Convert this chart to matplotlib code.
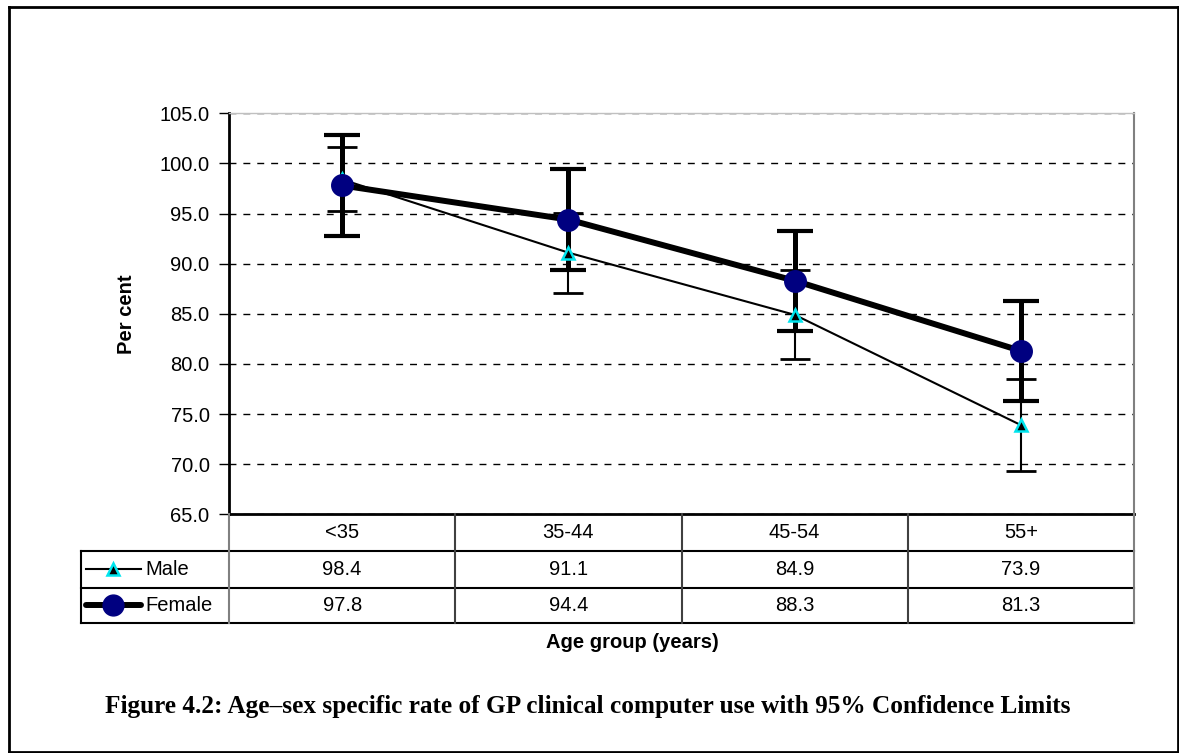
import matplotlib
matplotlib.use("Agg")
import matplotlib.pyplot as plt
from matplotlib.lines import Line2D
from matplotlib.transforms import blended_transform_factory

plt.rcParams['font.family'] = ['Liberation Sans', 'DejaVu Sans']

# ---- data ----
categories = ['<35', '35-44', '45-54', '55+']
male = [98.4, 91.1, 84.9, 73.9]
female = [97.8, 94.4, 88.3, 81.3]
male_ci_lower = [95.3, 87.1, 80.5, 69.3]
male_ci_upper = [101.6, 95.1, 89.4, 78.5]
female_ci_lower = [92.8, 89.4, 83.3, 76.3]
female_ci_upper = [102.8, 99.4, 93.3, 86.3]
series_names = ['Male', 'Female']
yticks = [65, 70, 75, 80, 85, 90, 95, 100, 105]

W, H = 1179, 753
fig = plt.figure(figsize=(W / 100, H / 100), dpi=100)

def fx(x):
    return x / W

def fy(y):
    return 1 - y / H

FS = 14.5
L, R, T, B = 229, 1134, 113.3, 514.3
ax = fig.add_axes([fx(L), fy(B), fx(R - L), (B - T) / H])
x = list(range(len(categories)))

# error bars
f_err = [[f - lo for f, lo in zip(female, female_ci_lower)],
         [hi - f for f, hi in zip(female, female_ci_upper)]]
m_err = [[m - lo for m, lo in zip(male, male_ci_lower)],
         [hi - m for m, hi in zip(male, male_ci_upper)]]
ax.errorbar(x, female, yerr=f_err, fmt='none', ecolor='black', elinewidth=3.6,
            capsize=13, capthick=3, zorder=2)
ax.errorbar(x, male, yerr=m_err, fmt='none', ecolor='black', elinewidth=1.5,
            capsize=11, capthick=2, zorder=3)

# lines
ax.plot(x, male, color='black', lw=1.5, marker='^', markersize=9,
        markerfacecolor='black', markeredgecolor='#00e5ee', markeredgewidth=1.8,
        zorder=4)
ax.plot(x, female, color='black', lw=4.3, marker='o', markersize=15.5,
        markerfacecolor='#000080', markeredgecolor='#000080', zorder=5)

ax.set_xlim(-0.5, len(categories) - 0.5)
ax.set_ylim(65, 105)
ax.set_yticks(yticks)
ax.set_yticklabels([f'{v:.1f}' for v in yticks], fontsize=FS)
ax.set_xticks([])
ax.tick_params(axis='y', direction='out', length=7, width=1, pad=7)
ax.yaxis.grid(True, linestyle=(0, (5, 5)), color='black', lw=1)
ax.set_axisbelow(True)
ax.spines['left'].set_linewidth(2)
ax.spines['left'].set_color('black')
ax.spines['bottom'].set_linewidth(2)
ax.spines['bottom'].set_color('black')
ax.spines['top'].set_color('#c0c0c0')
ax.spines['top'].set_linewidth(1)
ax.spines['right'].set_color('#808080')
ax.spines['right'].set_linewidth(1.5)
ax.set_ylabel('Per cent', fontsize=FS, fontweight='bold', labelpad=17)

# ---- data table ----
TL, TR = 81, 1134
rows_y = [514.3, 551, 587.5, 623]
tax = fig.add_axes([fx(TL), fy(rows_y[-1]), fx(TR - TL), (rows_y[-1] - rows_y[0]) / H])
tax.set_xlim(TL, TR)
tax.set_ylim(rows_y[-1], rows_y[0])
tax.axis('off')
tr = blended_transform_factory(ax.transData, tax.transData)

# horizontal lines
for yy in rows_y[1:]:
    tax.add_line(Line2D([TL, TR], [yy, yy], color='black', lw=1.5, clip_on=False))
# vertical lines
for i in range(len(categories) + 1):
    xv = i - 0.5
    col = '#404040' if 0 < i < len(categories) else '#808080'
    tax.add_line(Line2D([xv, xv], [rows_y[0], rows_y[-1]], color=col, lw=1.5,
                        transform=tr, clip_on=False))
tax.add_line(Line2D([TL, TL], [rows_y[1], rows_y[-1]], color='black', lw=1.5, clip_on=False))

def rc(i):
    return (rows_y[i] + rows_y[i + 1]) / 2

for i, c in enumerate(categories):
    tax.text(i, rc(0), c, transform=tr, ha='center', va='center', fontsize=FS)
    tax.text(i, rc(1), f'{male[i]:.1f}', transform=tr, ha='center', va='center', fontsize=FS)
    tax.text(i, rc(2), f'{female[i]:.1f}', transform=tr, ha='center', va='center', fontsize=FS)

# legend keys in the table
tax.add_line(Line2D([86, 141], [rc(1), rc(1)], color='black', lw=1.5, clip_on=False))
tax.add_line(Line2D([113], [rc(1)], marker='^', markersize=9, markerfacecolor='black',
                    markeredgecolor='#00e5ee', markeredgewidth=1.8, clip_on=False))
tax.add_line(Line2D([86, 141], [rc(2), rc(2)], color='black', lw=4.3, clip_on=False,
                    solid_capstyle='round'))
tax.add_line(Line2D([113], [rc(2)], marker='o', markersize=15, markerfacecolor='#000080',
                    markeredgecolor='#000080', clip_on=False))
tax.text(145, rc(1), series_names[0], ha='left', va='center', fontsize=FS)
tax.text(145, rc(2), series_names[1], ha='left', va='center', fontsize=FS)

# x-axis title
fig.text(fx(632), fy(642), 'Age group (years)', ha='center', va='center',
         fontsize=FS, fontweight='bold')

# caption
fig.text(fx(105), fy(707), 'Figure 4.2: Age\u2013sex specific rate of GP clinical computer use with 95% Confidence Limits',
         ha='left', va='center', fontsize=18.2, fontweight='bold',
         family=['Liberation Serif', 'DejaVu Serif'])

# outer border
for xs, ys in [([9, 1178], [7, 7]), ([9, 9], [7, 752]),
               ([1178, 1178], [7, 752]), ([9, 1178], [752, 752])]:
    fig.add_artist(Line2D([fx(v) for v in xs], [fy(v) for v in ys], color='black', lw=2))

fig.savefig('out.png', dpi=100)
